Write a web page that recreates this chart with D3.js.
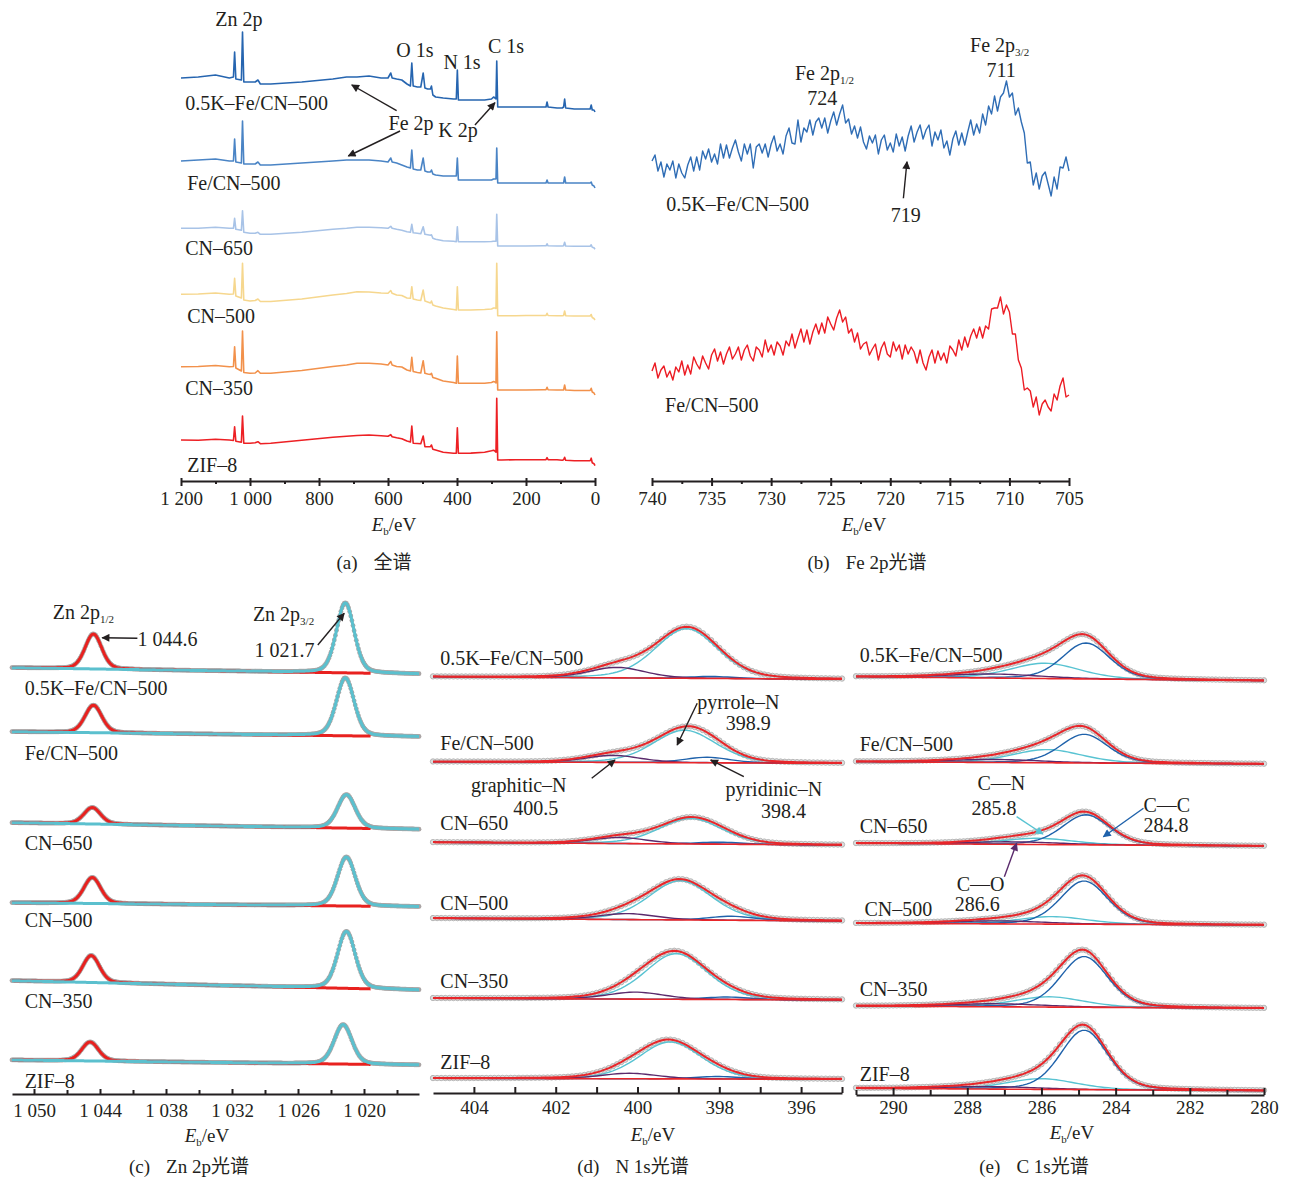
<!DOCTYPE html>
<html>
<head>
<meta charset="utf-8">
<script src="https://cdn.jsdelivr.net/npm/d3@7"></script>
<style>
  body { margin: 0; background: #fff; }
</style>
</head>
<body>
<svg id="fig" width="1291" height="1177"></svg>
<script>
//Data: survey spectra (a)----------------------------------------------------------------------
var sampleNames = ["0.5K–Fe/CN–500", "Fe/CN–500", "CN–650", "CN–500", "CN–350", "ZIF–8"];
var surveyColors = ["#2665b0", "#4a84c5", "#a8c3e7", "#f6d78e", "#f2914b", "#ed2024"];
var surveyEv = [1200, 1150, 1100, 1060, 1048, 1044.6, 1041, 1025, 1021.7, 1018,
  1000, 985, 977, 970, 940, 850, 760, 720, 690, 655,
  620, 600, 592, 588, 575, 560, 545, 535, 531, 527,
  515, 505, 498, 493, 485, 477, 474, 470, 462, 440,
  410, 402, 399, 396, 360, 320, 300, 294, 290, 287,
  284.8, 282, 270, 230, 200, 150, 142, 139, 136, 110,
  95, 91, 88, 85, 60, 30, 14, 11, 8, 3, 0];
var survey05K = [34, 35, 37, 34, 35, 60, 33, 32, 80, 30,
  30, 30, 32, 28, 28, 30, 33, 35, 35, 36,
  34, 34, 39, 34, 33, 32, 28, 26, 49, 26,
  25, 25, 39, 24, 23, 23, 26, 17, 15, 14,
  13, 13, 42, 12, 12, 12, 13, 15, 14, 13,
  51, 5, 5, 5, 5, 5, 5, 10, 5, 4,
  4, 5, 13, 4, 3, 3, 3, 7, 2, 2, 0];
var surveyFeCN = [27, 28, 29, 27, 27, 49, 26, 25, 67, 24,
  24, 24, 26, 23, 23, 25, 27, 28, 28, 28,
  27, 26, 30, 26, 25, 23, 21, 20, 38, 19,
  18, 18, 30, 17, 16, 16, 18, 14, 13, 12,
  12, 12, 30, 8, 8, 8, 8, 9, 9, 9,
  40, 5, 5, 5, 5, 5, 5, 8, 5, 5,
  5, 5, 11, 5, 5, 5, 5, 6, 3, 2, 0];
var surveyCN650 = [21, 21, 22, 21, 21, 31, 20, 19, 38.6, 17,
  16, 16, 17, 15, 15, 17, 20, 21, 22, 22,
  21.5, 21, 23, 21, 20, 19, 17.5, 17, 25, 16.5,
  16, 15.5, 22.6, 15, 14.5, 14, 14.5, 11, 10, 8.5,
  8, 7.6, 22.6, 7.6, 7.6, 7.6, 7.8, 8, 8, 8,
  35, 3.3, 3.3, 3.3, 3.3, 3.5, 3.5, 5.5, 3.5, 3.3,
  3.3, 3.5, 7, 3.3, 3, 3, 3, 4.5, 2, 1.5, 0];
var surveyCN500 = [25.7, 26, 27, 25.7, 26, 41.7, 24, 22, 56.7, 20,
  19, 19.5, 21, 18.5, 18.5, 21, 25, 26.5, 28.3, 28,
  27, 26.7, 29.5, 26.7, 25, 24.5, 22, 21.7, 33.3, 21,
  20, 19.5, 30, 19, 18, 17, 19, 15, 14, 12,
  10.5, 10, 33.3, 10, 10, 10.5, 11, 12, 12, 11.5,
  56.7, 4.3, 4.3, 4.3, 4.5, 4.5, 4.5, 6.7, 4.5, 4.3,
  4.3, 4.5, 9, 4.3, 4, 4, 4, 5.5, 2.5, 1.5, 0];
var surveyCN350 = [28.3, 28.5, 29.5, 28.3, 28.5, 48.3, 27, 24, 64, 22.5,
  21.7, 22, 24.3, 21.7, 21.7, 24.5, 28.5, 30, 31.7, 31.7,
  31, 30, 33.5, 30, 28.5, 28, 25, 24, 37.7, 23.5,
  22.5, 22, 34.3, 21.7, 21, 20.5, 21.7, 17.5, 16.7, 14,
  12.5, 11.7, 39, 11.7, 11.7, 11.7, 12.5, 13.5, 13, 12,
  63.3, 5, 5, 5, 5, 5.2, 5.2, 7.7, 5.2, 5,
  5, 5, 10, 5, 4.5, 4.5, 4.5, 6.7, 3, 2, 0];
var surveyZIF8 = [25.7, 25.5, 26.5, 25.7, 25.2, 39, 24.5, 23.5, 49.7, 22.5,
  22.4, 23, 24, 22, 22.5, 25.5, 28.5, 29.5, 30.2, 30.7,
  30, 29.5, 31, 29, 28, 27, 24.7, 23.7, 39.7, 22.4,
  22.2, 22, 29.7, 19, 19, 19, 20.7, 16.5, 15.7, 13.5,
  12.5, 12.4, 38, 12.4, 12.6, 13.5, 15, 15.5, 14.5, 13.5,
  67.4, 5.7, 5.7, 6, 6, 6, 6, 8, 6, 6,
  5.5, 6, 8.4, 5.5, 5, 5, 5, 7.5, 3, 2, 0];
var surveyOffset = [369, 293, 231.7, 161, 86, 15.3];
var surveyTicks = [1200, 1000, 800, 600, 400, 200, 0];
var surveyMinor = [1100, 900, 700, 500, 300, 100];

//Data: Fe 2p (b), 0.25 eV steps from 740 eV down to 705 eV-------------------------------------
var fe2pStart = 740, fe2pStep = 0.25;
var fe2p05K = [320, 326, 310, 319, 304, 317, 311, 320,
  303, 317, 308, 303, 316, 324, 310, 324,
  311, 330, 322, 332, 319, 327, 317, 337,
  323, 336, 323, 333, 341, 329, 320, 337,
  327, 337, 313, 334, 337, 328, 337, 324,
  337, 345, 330, 337, 327, 345, 353, 338,
  337, 361, 339, 353, 349, 361, 346, 359,
  363, 353, 363, 348, 360, 369, 356, 367,
  376, 358, 362, 347, 355, 343, 354, 339,
  332, 345, 338, 346, 327, 341, 346, 331,
  338, 329, 347, 335, 344, 330, 345, 355,
  339, 349, 356, 342, 351, 356, 335, 349,
  341, 351, 333, 340, 326, 342, 350, 336,
  348, 336, 349, 361, 346, 357, 348, 367,
  356, 375, 367, 385, 370, 384, 388, 400,
  384, 388, 366, 373, 359, 348, 318, 319,
  296, 308, 292, 305, 309, 297, 285, 304,
  292, 314, 313, 324, 310];
var fe2pFeCN = [110, 118, 103, 111, 115, 104, 110, 101,
  114, 109, 120, 106, 116, 107, 124, 117,
  112, 125, 118, 112, 126, 132, 120, 129,
  117, 127, 134, 122, 127, 134, 121, 131,
  136, 125, 120, 134, 131, 124, 141, 129,
  136, 126, 139, 135, 126, 140, 135, 147,
  133, 143, 152, 139, 151, 137, 149, 157,
  147, 158, 148, 164, 157, 151, 163, 171,
  159, 164, 148, 152, 139, 148, 132, 137,
  139, 126, 132, 137, 121, 133, 139, 127,
  124, 139, 130, 136, 122, 136, 127, 134,
  129, 118, 131, 118, 111, 124, 131, 118,
  130, 121, 128, 118, 135, 131, 125, 141,
  131, 144, 134, 145, 152, 143, 154, 143,
  155, 152, 172, 173, 173, 184, 167, 176,
  169, 147, 147, 121, 113, 91, 93, 90,
  74, 84, 66, 77, 81, 74, 70, 87,
  81, 95, 103, 84, 86];
var fe2pColors = ["#2f6db5", "#ec1c24"];
var fe2pTicks = [740, 735, 730, 725, 720, 715, 710, 705];
var fe2pMinor = [737.5, 732.5, 727.5, 722.5, 717.5, 712.5, 707.5];

//Data: Zn 2p fits (c)------------------------------------------------------------------------
var zn12Center = [1044.6, 1044.6, 1044.7, 1044.7, 1044.8, 1044.9];
var zn12Height = [35, 27.5, 16.5, 26, 27, 19];
var zn32Center = [1021.7, 1021.7, 1021.6, 1021.6, 1021.6, 1021.9];
var zn32Height = [70, 58, 33.5, 49, 57, 39.5];
var znBgHigh = [426.3, 362.3, 271.3, 191.3, 113.3, 34];
var znBgLow = [420, 357.3, 264.7, 187.3, 104, 29];
var znTicks = [1050, 1044, 1038, 1032, 1026, 1020];
var znMinor = [1047, 1041, 1035, 1029, 1023, 1017];

//Data: N 1s fits (d)-------------------------------------------------------------------------
var pyrroleCenter = [398.8, 398.85, 398.7, 398.95, 399.05, 399.2];
var pyrroleHeight = [49.7, 32.5, 25.7, 39.3, 45.7, 37];
var graphiticCenter = [400.5, 400.6, 400.45, 400.25, 400.05, 400.2];
var graphiticHeight = [10.5, 7, 6, 6, 7, 5.5];
var pyridinicCenter = [398.2, 398.3, 398.0, 397.7, 397.8, 398.05];
var pyridinicHeight = [2, 5.5, 2, 4, 2.5, 2.5];
var n1sBgHigh = [416.3, 331.3, 250.7, 174.7, 94.7, 14.7];
var n1sBgLow = [413.7, 329.7, 248, 172, 93, 13.7];
var n1sTicks = [404, 402, 400, 398, 396];
var n1sMinor = [403, 401, 399, 397, 395];

//Data: C 1s fits (e)-------------------------------------------------------------------------
var ccCenter = [284.8, 284.85, 284.8, 284.85, 284.85, 284.85];
var ccHeight = [36, 28.7, 30, 43.3, 50.8, 59.5];
var cnCenter = [285.9, 285.85, 286.1, 285.7, 285.8, 286.0];
var cnHeight = [15.3, 13.2, 6.2, 7.5, 10.3, 10.7];
var coCenter = [287.3, 287.3, 286.8, 287.2, 287.2, 287.4];
var coHeight = [4, 3, 2.5, 3, 3, 2.5];
var c1sBgHigh = [418.3, 333.3, 251.7, 171.7, 89, 6.7];
var c1sBgLow = [414.3, 331, 249, 170, 86.7, 4.3];
var c1sTicks = [290, 288, 286, 284, 282, 280];
var c1sMinor = [291, 289, 287, 285, 283, 281];

//Helpers-------------------------------------------------------------------------------------
var FONT = '"Liberation Serif", "Times New Roman", "Noto Sans CJK SC", serif';
var INK = "#231f20";
var CYAN = "#58c3d2", BLUE = "#1f62ab", PURPLE = "#5a2a6c", RED = "#e8262a";
var svg = d3.select("#fig");

var defs = svg.append("defs");
function marker(id, color) {
  defs.append("marker")
    .attr("id", id)
    .attr("viewBox", "0 0 10 10")
    .attr("refX", 9).attr("refY", 5)
    .attr("markerWidth", 11).attr("markerHeight", 8)
    .attr("markerUnits", "userSpaceOnUse")
    .attr("orient", "auto")
    .append("path").attr("d", "M0,0 L10,5 L0,10 z").attr("fill", color);
}
marker("ah-ink", INK);
marker("ah-cyan", CYAN);
marker("ah-blue", BLUE);
marker("ah-purple", PURPLE);

function arrow(x1, y1, x2, y2, color, id) {
  svg.append("line")
    .attr("x1", x1).attr("y1", y1).attr("x2", x2).attr("y2", y2)
    .attr("stroke", color || INK).attr("stroke-width", 1.4)
    .attr("marker-end", "url(#" + (id || "ah-ink") + ")");
}

function note(x, y, txt, anchor, size) {
  return svg.append("text")
    .attr("x", x).attr("y", y)
    .attr("text-anchor", anchor || "start")
    .attr("font-family", FONT).attr("font-size", size || 20)
    .attr("fill", INK).text(txt);
}

function subNote(x, y, main, sub, anchor) {
  var t = svg.append("text")
    .attr("x", x).attr("y", y)
    .attr("text-anchor", anchor || "start")
    .attr("font-family", FONT).attr("font-size", 20).attr("fill", INK);
  t.append("tspan").text(main);
  t.append("tspan").attr("font-size", 11).attr("dy", 4).text(sub);
  return t;
}

function axisTitle(cx, y) {
  var t = svg.append("text")
    .attr("x", cx).attr("y", y).attr("text-anchor", "middle")
    .attr("font-family", FONT).attr("font-size", 19).attr("fill", INK);
  t.append("tspan").attr("font-style", "italic").text("E");
  t.append("tspan").attr("font-size", 11).attr("dy", 4).text("b");
  t.append("tspan").attr("dy", -4).text("/eV");
}

function caption(cx, y, tag, txt) {
  var t = svg.append("text")
    .attr("x", cx).attr("y", y).attr("text-anchor", "middle")
    .attr("font-family", FONT).attr("font-size", 19).attr("fill", INK);
  t.append("tspan").text(tag);
  t.append("tspan").attr("dx", 16).text(txt);
}

var kfmt = function(d) { return d >= 1000 ? "1 " + d3.format("03d")(d - 1000) : String(d); };

// up: inward tick length, down: outward tick length
function bottomAxis(x, y0, major, minor, o) {
  var g = svg.append("g").attr("transform", "translate(0," + y0 + ")");
  g.call(d3.axisBottom(x).tickValues(major).tickSizeInner(o.down).tickSizeOuter(0)
    .tickPadding(o.pad).tickFormat(o.fmt || kfmt));
  if (o.up) {
    g.append("g").call(d3.axisBottom(x).tickValues(major).tickSize(-o.up).tickFormat(""))
      .select(".domain").remove();
  }
  g.append("g").call(d3.axisBottom(x).tickValues(minor).tickSize(o.minor).tickFormat(""))
    .select(".domain").remove();
  g.attr("font-size", null).attr("font-family", null).attr("color", INK);
  g.selectAll("text").attr("font-family", FONT).attr("font-size", 19).attr("fill", INK);
  g.selectAll("line").attr("stroke-width", 2);
  g.select(".domain").attr("stroke-width", 2);
}

function peak(e, c, h, w) {
  var u = (e - c) / w;
  return h * (0.75 * Math.exp(-4 * Math.LN2 * u * u) + 0.25 / (1 + 4 * u * u));
}

//Panel (a) survey----------------------------------------------------------------------------
var xA = d3.scaleLinear().domain([1200, 0]).range([181, 595]);
var yA = d3.scaleLinear().domain([0, 460]).range([481, 21]);
var surveyAll = [survey05K, surveyFeCN, surveyCN650, surveyCN500, surveyCN350, surveyZIF8];
var lineA = d3.line().x(function(d) { return xA(d[0]); }).y(function(d) { return yA(d[1]); });

surveyAll.forEach(function(vals, k) {
  var pts = surveyEv.map(function(e, i) { return [e, vals[i] + surveyOffset[k]]; });
  svg.append("path").attr("d", lineA(pts))
    .attr("fill", "none").attr("stroke", surveyColors[k])
    .attr("stroke-width", 1.6).attr("stroke-linejoin", "round");
});
bottomAxis(xA, 481, surveyTicks, surveyMinor, {down: 5, up: 3, minor: 3, pad: 6});

var labA = [[1188, 371], [1182, 291.5], [1188, 226], [1182, 158], [1188, 86], [1182, 9.5]];
labA.forEach(function(p, k) { note(xA(p[0]), yA(p[1]), sampleNames[k]); });
note(xA(1032), yA(455), "Zn 2p", "middle");
note(xA(522), yA(424), "O 1s", "middle");
note(xA(385.5), yA(412), "N 1s", "middle");
note(xA(258), yA(428), "C 1s", "middle");
note(xA(533), yA(351), "Fe 2p", "middle");
note(xA(397), yA(344), "K 2p", "middle");
arrow(xA(575), yA(370.3), xA(705), yA(396));
arrow(xA(565), yA(350), xA(715), yA(325));
arrow(xA(348), yA(356), xA(290), yA(378.3));
axisTitle(394, 531);
caption(374, 569, "(a)", "全谱");

//Panel (b) Fe 2p-----------------------------------------------------------------------------
var xB = d3.scaleLinear().domain([740, 705]).range([652, 1069]);
var yB = d3.scaleLinear().domain([0, 460]).range([481, 21]);
var lineB = d3.line()
  .x(function(d, i) { return xB(fe2pStart - i * fe2pStep); })
  .y(function(d) { return yB(d); });

[fe2p05K, fe2pFeCN].forEach(function(vals, k) {
  svg.append("path").attr("d", lineB(vals))
    .attr("fill", "none").attr("stroke", fe2pColors[k])
    .attr("stroke-width", 1.4).attr("stroke-linejoin", "round");
});
bottomAxis(xB, 481, fe2pTicks, fe2pMinor, {down: 5, up: 3, minor: 3, pad: 6});

subNote(xB(713.3), yB(429), "Fe 2p", "3/2");
note(xB(710.7), yB(404), "711", "middle");
subNote(xB(728), yB(401), "Fe 2p", "1/2");
note(xB(725.7), yB(376), "724", "middle");
note(xB(718.7), yB(259), "719", "middle");
arrow(xB(718.9), yB(282.7), xB(718.6), yB(319.3));
note(xB(738.8), yB(270), sampleNames[0]);
note(xB(738.9), yB(69), sampleNames[1]);
axisTitle(864, 531);
caption(867, 569, "(b)", "Fe 2p光谱");

//Panel (c) Zn 2p-----------------------------------------------------------------------------
var xC = d3.scaleLinear().domain([1052, 1015]).range([12, 419]);
var yC = d3.scaleLinear().domain([0, 500]).range([1094, 594]);
var gridC = d3.range(1015, 1052.001, 0.1);

sampleNames.forEach(function(name, k) {
  var bg = function(e) { return znBgHigh[k] + (znBgLow[k] - znBgHigh[k]) * (1052 - e) / 37; };
  var p12 = function(e) { return peak(e, zn12Center[k], zn12Height[k], 1.8); };
  var p32 = function(e) { return peak(e, zn32Center[k], zn32Height[k], 1.9); };
  var line = d3.line().x(function(d) { return xC(d[0]); }).y(function(d) { return yC(d[1]); });

  svg.append("g").selectAll("circle")
    .data(gridC.map(function(e) { return [e, bg(e) + p12(e) + p32(e)]; }))
    .enter().append("circle")
    .attr("cx", function(d) { return xC(d[0]); })
    .attr("cy", function(d) { return yC(d[1]); })
    .attr("r", 2.4).attr("fill", "#aaa5a5");

  svg.append("path")
    .attr("d", line(gridC.filter(function(e) { return e >= 1019.4; })
      .map(function(e) { return [e, bg(e) + p12(e)]; })))
    .attr("fill", "none").attr("stroke", "#e8211f").attr("stroke-width", 3);
  svg.append("path")
    .attr("d", line(gridC.map(function(e) { return [e, bg(e) + p32(e)]; })))
    .attr("fill", "none").attr("stroke", "#5bc0ce").attr("stroke-width", 3);
});
bottomAxis(xC, 1094, znTicks, znMinor, {down: 0, up: 5, minor: -4, pad: 10});

var labC = [399.5, 334.5, 244.5, 167.5, 86, 6];
labC.forEach(function(v, k) { note(xC(1050.85), yC(v), sampleNames[k]); });
subNote(xC(1048.3), yC(475), "Zn 2p", "1/2");
note(xC(1040.6), yC(448.5), "1 044.6");
arrow(xC(1040.6), yC(455.7), xC(1043.8), yC(456.3));
subNote(xC(1030.1), yC(473.5), "Zn 2p", "3/2");
note(xC(1029.96), yC(437.5), "1 021.7");
arrow(xC(1024.2), yC(449), xC(1021.8), yC(480.7));
axisTitle(207, 1142);
caption(189, 1173, "(c)", "Zn 2p光谱");

//Fit panels (d) and (e)----------------------------------------------------------------------
function fitPanel(x, y, grid, comps, bgHigh, bgLow) {
  var d0 = x.domain()[0], d1 = x.domain()[1];
  var line = d3.line().x(function(d) { return x(d[0]); }).y(function(d) { return y(d[1]); });
  sampleNames.forEach(function(name, k) {
    var bg = function(e) { return bgHigh[k] + (bgLow[k] - bgHigh[k]) * (d0 - e) / (d0 - d1); };
    var env = function(e) {
      var s = bg(e);
      comps.forEach(function(c) { s += peak(e, c.center[k], c.height[k], c.fwhm); });
      return s;
    };
    svg.append("g").selectAll("circle")
      .data(grid.map(function(e) { return [e, env(e)]; }))
      .enter().append("circle")
      .attr("cx", function(d) { return x(d[0]); })
      .attr("cy", function(d) { return y(d[1]); })
      .attr("r", 2.7).attr("fill", "#dcdcdc").attr("stroke", "#a9a9a9").attr("stroke-width", 0.8);
    comps.forEach(function(c) {
      svg.append("path")
        .attr("d", line(grid.map(function(e) { return [e, bg(e) + peak(e, c.center[k], c.height[k], c.fwhm)]; })))
        .attr("fill", "none").attr("stroke", c.color).attr("stroke-width", 1.4);
    });
    svg.append("path").attr("d", line(grid.map(function(e) { return [e, bg(e)]; })))
      .attr("fill", "none").attr("stroke", RED).attr("stroke-width", 1.6);
    svg.append("path").attr("d", line(grid.map(function(e) { return [e, env(e)]; })))
      .attr("fill", "none").attr("stroke", RED).attr("stroke-width", 2);
  });
}

//Panel (d) N 1s------------------------------------------------------------------------------
var xD = d3.scaleLinear().domain([405, 395]).range([433, 842]);
var yD = d3.scaleLinear().domain([0, 500]).range([1093, 593]);
fitPanel(xD, yD, d3.range(395, 405.001, 0.1), [
  {center: pyrroleCenter, height: pyrroleHeight, fwhm: 1.8, color: CYAN},
  {center: pyridinicCenter, height: pyridinicHeight, fwhm: 1.3, color: BLUE},
  {center: graphiticCenter, height: graphiticHeight, fwhm: 1.6, color: PURPLE}
], n1sBgHigh, n1sBgLow);
bottomAxis(xD, 1093, n1sTicks, n1sMinor, {down: 0, up: 6, minor: -6, pad: 8});

var labD = [428, 343, 263, 183, 105, 24.5];
labD.forEach(function(v, k) { note(xD(404.82), yD(v), sampleNames[k]); });
note(xD(398.54), yD(384), "pyrrole–N");
note(xD(397.29), yD(363), "398.9", "middle");
arrow(xD(398.54), yD(389.7), xD(399.03), yD(348));
note(xD(404.07), yD(301.5), "graphitic–N");
note(xD(402.49), yD(278), "400.5", "middle");
arrow(xD(401.12), yD(314.7), xD(400.55), yD(333));
note(xD(397.85), yD(297.5), "pyridinic–N");
note(xD(396.43), yD(275), "398.4", "middle");
arrow(xD(397.4), yD(316.3), xD(398.21), yD(333));
axisTitle(653, 1141);
caption(633, 1173, "(d)", "N 1s光谱");

//Panel (e) C 1s------------------------------------------------------------------------------
var xE = d3.scaleLinear().domain([291, 280]).range([856, 1264]);
var yE = d3.scaleLinear().domain([0, 500]).range([1095, 595]);
fitPanel(xE, yE, d3.range(280, 291.001, 0.1), [
  {center: cnCenter, height: cnHeight, fwhm: 2.2, color: CYAN},
  {center: ccCenter, height: ccHeight, fwhm: 1.5, color: BLUE},
  {center: coCenter, height: coHeight, fwhm: 3.0, color: PURPLE}
], c1sBgHigh, c1sBgLow);
bottomAxis(xE, 1095, c1sTicks, c1sMinor, {down: 0, up: 7, minor: -5, pad: 6});

var labE = [433.5, 344.5, 262, 179.5, 99.5, 14];
labE.forEach(function(v, k) { note(xE(k === 3 ? 290.77 : 290.9), yE(v), sampleNames[k]); });
note(xE(287.08), yE(305.5), "C—N", "middle");
note(xE(287.28), yE(280), "285.8", "middle");
arrow(xE(286.67), yE(278.3), xE(285.96), yE(261), CYAN, "ah-cyan");
note(xE(283.25), yE(283.5), "C—C");
note(xE(283.25), yE(263), "284.8");
arrow(xE(283.25), yE(286.7), xE(284.33), yE(258.3), BLUE, "ah-blue");
note(xE(287.64), yE(204.5), "C—O", "middle");
note(xE(287.73), yE(184), "286.6", "middle");
arrow(xE(287.0), yE(218.3), xE(286.67), yE(251.7), PURPLE, "ah-purple");
axisTitle(1072, 1139);
caption(1034, 1173, "(e)", "C 1s光谱");
</script>
</body>
</html>
